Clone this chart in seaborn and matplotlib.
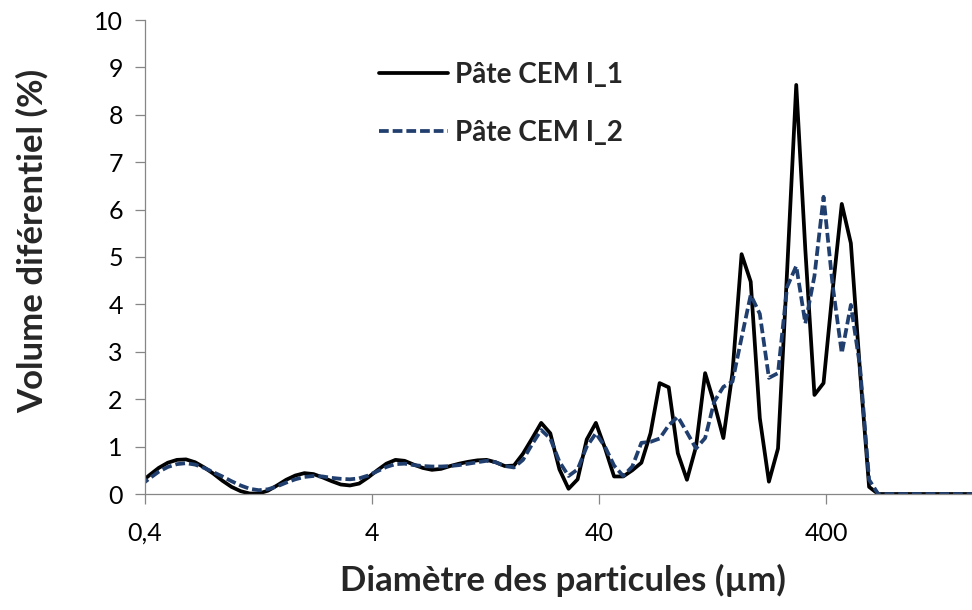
import numpy as np
import pandas as pd
import matplotlib
matplotlib.use("Agg")
import matplotlib.pyplot as plt
import seaborn as sns
from matplotlib.ticker import FixedLocator, FixedFormatter, NullLocator

# Channel diameters (µm), log-spaced laser granulometry bins
diametre = [
    0.382, 0.419, 0.4595, 0.504, 0.5527, 0.6062, 0.6648, 0.7292, 0.7997, 0.8771,
    0.9619, 1.055, 1.157, 1.269, 1.392, 1.526, 1.674, 1.836, 2.014, 2.209,
    2.422, 2.657, 2.914, 3.195, 3.505, 3.844, 4.216, 4.623, 5.071, 5.561,
    6.099, 6.689, 7.337, 8.046, 8.825, 9.679, 10.62, 11.64, 12.77, 14.00,
    15.36, 16.85, 18.47, 20.26, 22.22, 24.37, 26.73, 29.32, 32.15, 35.26,
    38.68, 42.42, 46.52, 51.02, 55.96, 61.37, 67.31, 73.82, 80.96, 88.80,
    97.39, 106.8, 117.1, 128.5, 140.9, 154.5, 169.5, 185.9, 203.9, 223.6,
    245.2, 268.9, 295.0, 323.5, 354.8, 389.1, 426.8, 468.1, 513.3, 563.0,
    617.5, 677.2, 742.7, 814.6, 893.4, 979.9, 1075, 1179, 1293, 1418,
    1555, 1705, 1870, 2051,
]

# Differential volume (%) for each paste
pate_1 = [
    0.24, 0.40, 0.55, 0.66, 0.72, 0.73, 0.67, 0.56, 0.43, 0.28,
    0.15, 0.06, 0.01, 0.01, 0.07, 0.18, 0.30, 0.39, 0.44, 0.42,
    0.35, 0.27, 0.20, 0.18, 0.22, 0.35, 0.50, 0.64, 0.72, 0.70,
    0.62, 0.55, 0.51, 0.53, 0.59, 0.64, 0.68, 0.71, 0.72, 0.67,
    0.59, 0.60, 0.85, 1.17, 1.50, 1.28, 0.52, 0.11, 0.31, 1.15,
    1.50, 0.97, 0.37, 0.37, 0.50, 0.66, 1.28, 2.34, 2.25, 0.86,
    0.30, 1.00, 2.55, 1.91, 1.18, 2.55, 5.06, 4.48, 1.60, 0.26,
    0.96, 4.70, 8.63, 5.15, 2.09, 2.34, 4.30, 6.12, 5.29, 2.60,
    0.15, 0.0, 0.0, 0.0, 0.0, 0.0, 0.0, 0.0, 0.0, 0.0,
    0.0, 0.0, 0.0, 0.0,
]
pate_2 = [
    0.18, 0.33, 0.47, 0.57, 0.63, 0.65, 0.62, 0.55, 0.46, 0.37,
    0.27, 0.18, 0.11, 0.08, 0.10, 0.16, 0.24, 0.31, 0.36, 0.38,
    0.37, 0.34, 0.32, 0.31, 0.33, 0.39, 0.48, 0.57, 0.63, 0.64,
    0.61, 0.59, 0.58, 0.58, 0.59, 0.61, 0.64, 0.67, 0.70, 0.67,
    0.59, 0.56, 0.72, 1.05, 1.35, 1.17, 0.68, 0.38, 0.52, 1.00,
    1.28, 1.00, 0.60, 0.38, 0.58, 1.08, 1.10, 1.17, 1.45, 1.63,
    1.30, 0.96, 1.18, 1.95, 2.26, 2.37, 3.30, 4.20, 3.80, 2.45,
    2.55, 4.37, 4.81, 3.60, 4.60, 6.27, 4.40, 2.97, 3.99, 2.69,
    0.30, 0.0, 0.0, 0.0, 0.0, 0.0, 0.0, 0.0, 0.0, 0.0,
    0.0, 0.0, 0.0, 0.0,
]

serie_noms = ["Pâte CEM I_1", "Pâte CEM I_2"]
x_ticks = [0.4, 4, 40, 400]
x_tick_labels = ["0,4", "4", "40", "400"]
y_ticks = list(range(0, 11))

df = pd.DataFrame({
    "diametre": diametre * 2,
    "volume": pate_1 + pate_2,
    "serie": [serie_noms[0]] * len(pate_1) + [serie_noms[1]] * len(pate_2),
})

sns.set_theme(style="white")
plt.rcParams["font.family"] = ["Lato", "DejaVu Sans"]

fig = plt.figure(figsize=(9.72, 6.10), dpi=100)
ax = fig.add_axes([145 / 972, 116 / 610, 840 / 972, 474 / 610])

grey = "#868686"
navy = "#213f6e"

sns.lineplot(data=df[df.serie == serie_noms[0]], x="diametre", y="volume",
             color="black", linewidth=2.7, sort=False, ax=ax,
             label=serie_noms[0], estimator=None)
sns.lineplot(data=df[df.serie == serie_noms[1]], x="diametre", y="volume",
             color=navy, linewidth=2.7, sort=False, ax=ax,
             label=serie_noms[1], estimator=None)
ax.lines[1].set_dashes((2.6, 1.05))

ax.set_xscale("log")
ax.set_xlim(0.4, 2000)
ax.set_ylim(0, 10)

ax.xaxis.set_major_locator(FixedLocator(x_ticks))
ax.xaxis.set_major_formatter(FixedFormatter(x_tick_labels))
ax.xaxis.set_minor_locator(NullLocator())
ax.set_yticks(y_ticks)

for side in ["top", "right"]:
    ax.spines[side].set_visible(False)
for side in ["left", "bottom"]:
    ax.spines[side].set_color(grey)
    ax.spines[side].set_linewidth(0.9)

ax.tick_params(axis="both", which="major", direction="out", length=7,
               width=0.9, color=grey, labelsize=18, labelcolor="black")
ax.tick_params(axis="x", pad=13)
ax.tick_params(axis="y", pad=9)
ax.tick_params(left=True, bottom=True)

ax.set_xlabel("Diamètre des particules (µm)", fontsize=25, fontweight="bold")
ax.set_ylabel("Volume diférentiel (%)", fontsize=25, fontweight="bold")
ax.xaxis.set_label_coords(0.498, -0.148)
ax.yaxis.set_label_coords(-0.115, 0.534)

leg = ax.legend(loc="upper left", bbox_to_anchor=(0.265, 0.935), frameon=False,
                fontsize=20, handlelength=2.5, handletextpad=0.25,
                labelspacing=1.15, borderaxespad=0)
for t in leg.get_texts():
    t.set_fontweight("bold")

fig.savefig("out.png", dpi=100)
